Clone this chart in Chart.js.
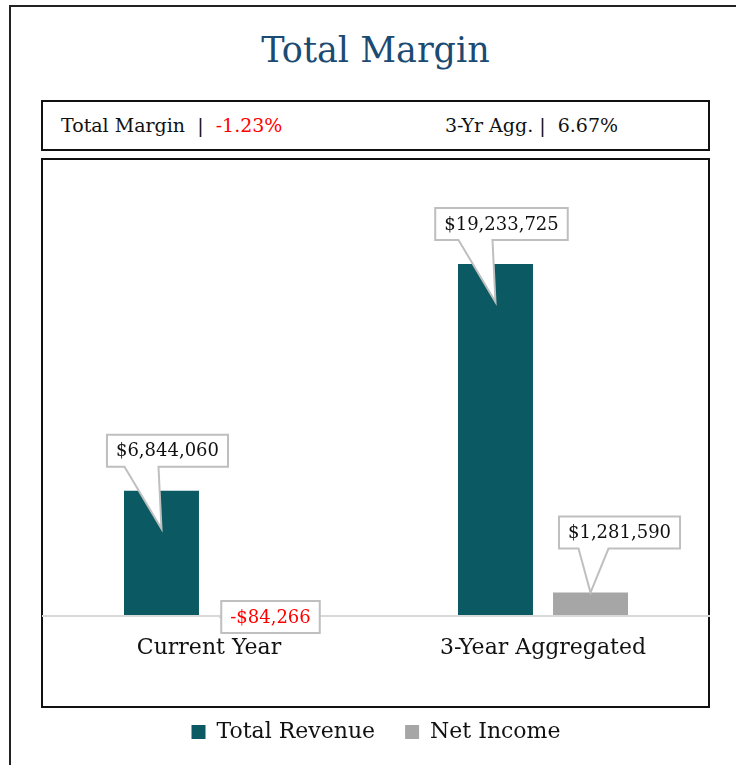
<!DOCTYPE html>
<html>
<head>
<meta charset="utf-8">
<script src="https://cdn.jsdelivr.net/npm/chart.js@4.4.1/dist/chart.umd.min.js"></script>
<style>
  body { margin: 0; width: 736px; height: 765px; overflow: hidden; background: #fff; position: relative; font-family: "DejaVu Serif", serif; }
  #outer { position: absolute; left: 9px; top: 5px; width: 760px; height: 800px; border: 2px solid #222; }
  #title { position: absolute; left: 41px; width: 669px; top: 28px; height: 44px; line-height: 44px; text-align: center; font-size: 35px; color: #1b4a72; }
  #stats { position: absolute; left: 41px; top: 100px; width: 665px; height: 47px; border: 2px solid #111; font-size: 19px; line-height: 47px; color: #111; }
  #stats span.a { position: absolute; left: 18px; }
  #stats span.b { position: absolute; left: 402px; }
  .neg { color: #ff0000; }
  #box { position: absolute; left: 41px; top: 158px; width: 665px; height: 546px; border: 2px solid #111; }
  #chart { position: absolute; left: 0; top: 158px; }
</style>
</head>
<body>
<div id="outer"></div>
<div id="title">Total Margin</div>
<div id="stats"><span class="a" id="s1"></span><span class="b" id="s2"></span></div>
<div id="box"></div>
<canvas id="chart" width="736" height="607"></canvas>
<script>
const categories = ['Current Year', '3-Year Aggregated'];
const seriesNames = ['Total Revenue', 'Net Income'];
const totalRevenue = [6844060, 19233725];
const netIncome = [-84266, 1281590];
const marginNames = ['Total Margin', '3-Yr Agg.'];
const marginValues = [-1.23, 6.67];

const FONT = '"DejaVu Serif", serif';

function money(v) {
    const s = '$' + Math.abs(v).toLocaleString('en-US');
    return v < 0 ? '-' + s : s;
}
function pct(v) {
    return v.toFixed(2) + '%';
}

// header strip
document.getElementById('s1').innerHTML = marginNames[0] + ' &nbsp;|&nbsp; <span class="' + (marginValues[0] < 0 ? 'neg' : '') + '">' + pct(marginValues[0]) + '</span>';
document.getElementById('s2').innerHTML = marginNames[1] + '&nbsp;| &nbsp;<span class="' + (marginValues[1] < 0 ? 'neg' : '') + '">' + pct(marginValues[1]) + '</span>';

// callout labels like excel data callouts
const callouts = {
    id: 'callouts',
    afterDatasetsDraw(chart) {
        const ctx = chart.ctx;
        ctx.save();
        ctx.font = '18px ' + FONT;
        ctx.textAlign = 'center';
        ctx.textBaseline = 'middle';
        chart.data.datasets.forEach((ds, di) => {
            chart.getDatasetMeta(di).data.forEach((bar, i) => {
                const v = ds.data[i];
                const text = money(v);
                const w = ctx.measureText(text).width + 18;
                const h = 32;
                let bx, by, tip = null, b1, b2;
                if (v < 0) {
                    bx = bar.x + 14 - w / 2;
                    by = bar.base - h / 2;
                } else if (di === 0) {
                    bx = bar.x + 6 - w / 2;
                    by = bar.y - 24 - h;
                    tip = [bar.x, bar.y + 38];
                    b1 = bar.x - 37; b2 = bar.x - 3;
                } else {
                    bx = bar.x + 29 - w / 2;
                    by = bar.y - 44 - h;
                    tip = [bar.x, bar.y];
                    b1 = bar.x - 12; b2 = bar.x + 18;
                }
                ctx.beginPath();
                ctx.moveTo(bx, by);
                ctx.lineTo(bx + w, by);
                ctx.lineTo(bx + w, by + h);
                if (tip) {
                    ctx.lineTo(b2, by + h);
                    ctx.lineTo(tip[0], tip[1]);
                    ctx.lineTo(b1, by + h);
                }
                ctx.lineTo(bx, by + h);
                ctx.closePath();
                ctx.fillStyle = '#ffffff';
                ctx.fill();
                ctx.lineWidth = 2;
                ctx.strokeStyle = '#bfbfbf';
                ctx.stroke();
                ctx.fillStyle = v < 0 ? '#ff0000' : '#111111';
                ctx.fillText(text, bx + w / 2, by + h / 2 + 1);
            });
        });
        ctx.restore();
    }
};

const ctx = document.getElementById('chart').getContext('2d');
const chart = new Chart(ctx, {
    type: 'bar',
    data: {
        labels: categories,
        datasets: [{
            label: seriesNames[0],
            data: totalRevenue,
            backgroundColor: '#0b5962'
        }, {
            label: seriesNames[1],
            data: netIncome,
            backgroundColor: '#a6a6a6'
        }]
    },
    options: {
        responsive: false,
        animation: false,
        devicePixelRatio: 1,
        categoryPercentage: 0.569,
        barPercentage: 0.789,
        layout: { padding: { left: 42, right: 26, top: 22, bottom: 12 } },
        scales: {
            x: {
                grid: { display: false, drawTicks: false },
                border: { display: false },
                ticks: { color: '#111', font: { family: FONT, size: 22 }, padding: 5 },
                afterFit: s => { s.height = 61; }
            },
            y: {
                min: -765000,
                max: 23820000,
                ticks: { display: false },
                border: { display: false },
                grid: {
                    drawTicks: false,
                    lineWidth: 2,
                    color: c => c.tick && c.tick.value === 0 ? '#d9d9d9' : 'rgba(0,0,0,0)'
                },
                afterFit: s => { s.width = 0; }
            }
        },
        plugins: {
            legend: {
                position: 'bottom',
                labels: {
                    boxWidth: 14,
                    boxHeight: 14,
                    padding: 30,
                    color: '#111',
                    font: { family: FONT, size: 22 }
                }
            },
            tooltip: { enabled: false }
        }
    },
    plugins: [callouts]
});
</script>
</body>
</html>
